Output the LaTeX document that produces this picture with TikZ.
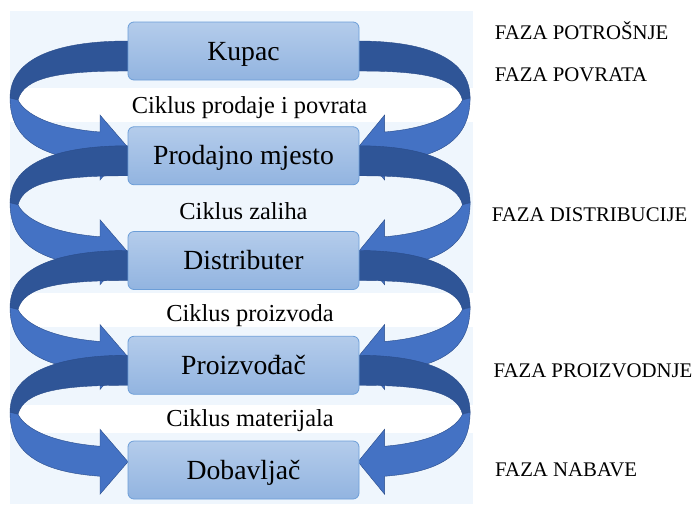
\documentclass[tikz,border=0pt]{standalone}
\usepackage{fontspec}
\setmainfont{Liberation Serif}
\definecolor{panel}{RGB}{239,246,253}
\definecolor{darkband}{RGB}{47,85,151}
\definecolor{lightband}{RGB}{68,114,196}
\definecolor{bandedge}{RGB}{42,76,138}
\definecolor{boxtop}{RGB}{180,204,235}
\definecolor{boxbot}{RGB}{146,180,224}
\definecolor{boxedge}{RGB}{108,158,216}
\newcommand\helixpart{%
  \filldraw[darkband, draw=bandedge, line width=0.4pt]
    (136,-10) -- (128,-10) .. controls (55,-10) and (10,8) .. (10,47)
    -- (18,49) .. controls (24,26) and (60,20) .. (128,20) -- (136,20) -- cycle;
  \filldraw[lightband, draw=bandedge, line width=0.4pt]
    (18,49) .. controls (25,63) and (50,77) .. (100,81) -- (100,64)
    -- (128,96.5) -- (100,129) -- (100,111)
    .. controls (45,107) and (10,91) .. (10,47) -- cycle;
}
\tikzset{
  stage/.style={rectangle, rounded corners=6pt, minimum width=231pt,
    minimum height=58pt, inner sep=0pt, top color=boxtop, bottom color=boxbot,
    draw=boxedge, line width=0.8pt, font=\fontsize{27.7}{30}\selectfont,
    text height=19pt, text depth=1pt},
  cyc/.style={inner sep=0pt, anchor=base, font=\fontsize{24.4}{28}\selectfont},
  faza/.style={inner sep=0pt, anchor=base west, font=\fontsize{20.8}{24}\selectfont}
}
\begin{document}
\begin{tikzpicture}[x=1pt,y=-1pt]
\useasboundingbox (0,0) rectangle (695,504);
\fill[panel] (10,11) rectangle (473,504);
\fill[white] (10,88) rectangle (473,122);
\fill[white] (10,293) rectangle (473,327);
\fill[white] (10,405) rectangle (473,433);
\foreach \yy in {51,155.75,260.5,365.25} {
  \begin{scope}[shift={(0,\yy)}] \helixpart \end{scope}
  \begin{scope}[shift={(479.6,\yy)},xscale=-0.95] \helixpart \end{scope}
}
\node[stage] (kupac) at (243.5,51) {Kupac};
\node[stage] (prodajno) at (243.5,155.75) {Prodajno mjesto};
\node[stage] (distributer) at (243.5,260.5) {Distributer};
\node[stage] (proizvodjac) at (243.5,365.25) {Proizvođač};
\node[stage] (dobavljac) at (243.5,470) {Dobavljač};
\node[cyc] (c1) at (249.5,113) {Ciklus prodaje i povrata};
\node[cyc] (c2) at (243.5,219.3) {Ciklus zaliha};
\node[cyc] (c3) at (250,321.7) {Ciklus proizvoda};
\node[cyc] (c4) at (250,426.7) {Ciklus materijala};
\node[faza] (f1) at (494.7,39) {FAZA POTROŠNJE};
\node[faza] (f2) at (494.7,81.7) {FAZA POVRATA};
\node[faza] (f3) at (491.7,221.7) {FAZA DISTRIBUCIJE};
\node[faza] (f4) at (493.3,377.7) {FAZA PROIZVODNJE};
\node[faza] (f5) at (495,476) {FAZA NABAVE};
\end{tikzpicture}
\end{document}
